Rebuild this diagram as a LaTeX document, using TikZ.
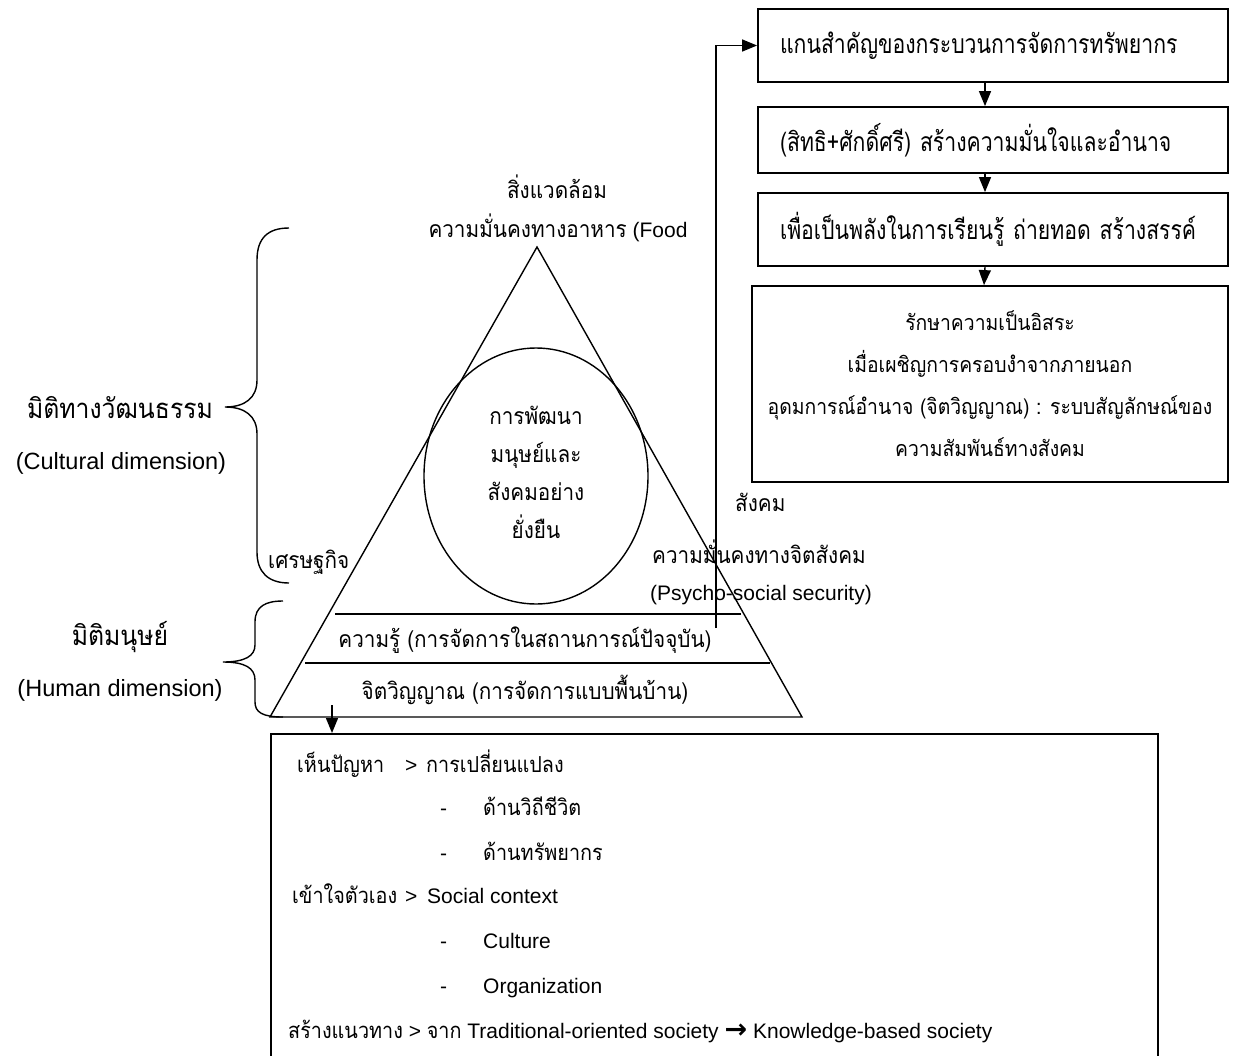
\documentclass[tikz,border=0pt]{standalone}
\usepackage{fontspec}
\setmainfont{Liberation Sans}
\newfontfamily\thai[Script=Thai,FakeStretch=0.9]{Loma}
\newfontfamily\thaibox[Script=Thai,FakeStretch=0.8]{Loma}
\newfontfamily\symfont{DejaVu Sans}
\usetikzlibrary{arrows.meta,positioning}

\begin{document}
\begin{tikzpicture}[x=1pt, y=-1pt,
  lbl/.style={inner sep=0pt, font=\fontsize{21}{25}\selectfont},
  tlbl/.style={inner sep=0pt, font=\thai\fontsize{23}{27}\selectfont},
  side/.style={inner sep=0pt, font=\thai\fontsize{27.5}{32}\selectfont},
  row/.style={inner sep=0pt, anchor=west, text height=15pt, text depth=5pt,
    font=\fontsize{21}{25}\selectfont},
  stepbox/.style={draw, line width=1.8pt, minimum width=470pt, text width=426pt,
    align=left, inner xsep=22pt, font=\thaibox\fontsize{26.5}{30}\selectfont},
  arr/.style={line width=1.4pt, -{Triangle[length=15pt,width=12pt]}},
  edge/.style={line width=1.4pt}]
\useasboundingbox (0,0) rectangle (1237,1055);

% flow of boxes on the right
\node[stepbox, minimum height=73pt] (b1) at (993,45.5) {แกนสำคัญของกระบวนการจัดการทรัพยากร};
\node[stepbox, minimum height=66pt] (b2) at (993,140) {(สิทธิ+ศักดิ์ศรี) สร้างความมั่นใจและอำนาจ};
\node[stepbox, minimum height=73pt] (b3) at (993,229.5) {เพื่อเป็นพลังในการเรียนรู้ ถ่ายทอด สร้างสรรค์};
\node[draw, line width=1.8pt, minimum width=476pt, minimum height=196pt, align=center,
  font=\thai\fontsize{21.5}{42}\selectfont] (b4) at (990,384)
  {รักษาความเป็นอิสระ\\เมื่อเผชิญการครอบงำจากภายนอก\\อุดมการณ์อำนาจ (จิตวิญญาณ) : ระบบสัญลักษณ์ของ\\ความสัมพันธ์ทางสังคม};

\draw[arr] ([xshift=-8pt]b1.south) -- ([xshift=-8pt]b2.north);
\draw[arr] ([xshift=-8pt]b2.south) -- ([xshift=-8pt]b3.north);
\draw[arr] ([xshift=-8pt]b3.south) -- ([xshift=-6pt]b4.north);

% pyramid
\draw[edge] (537,247) -- (270,717) -- (802,717) -- cycle;
\draw[edge] (335,614) -- (741,614);
\draw[edge] (305,663) -- (770,663);
\draw[edge] (536,476) ellipse [x radius=112, y radius=128];

\node[tlbl] (env) at (557,187) {สิ่งแวดล้อม};
\node[lbl] (food) at (558,228) {{\thai\fontsize{23}{27}\selectfont ความมั่นคงทางอาหาร} (Food};
\node[tlbl, align=center, font=\thai\fontsize{23}{38}\selectfont] (core) at (536,472)
  {การพัฒนา\\มนุษย์และ\\สังคมอย่าง\\ยั่งยืน};
\node[tlbl, anchor=west] (eco) at (268,562) {เศรษฐกิจ};
\node[tlbl, anchor=west] (soc) at (735,502) {สังคม};
\node[tlbl] (psy) at (759,552) {ความมั่นคงทางจิตสังคม};
\node[lbl] (psyen) at (761,595) {(Psycho-social security)};
\node[tlbl] (know) at (525,640) {ความรู้ (การจัดการในสถานการณ์ปัจจุบัน)};
\node[tlbl] (spirit) at (525,690) {จิตวิญญาณ (การจัดการแบบพื้นบ้าน)};

% braces and dimensions
\draw[line width=1.4pt] (289,228) .. controls (268,228) and (257,238) .. (257,260) -- (257,380)
  .. controls (257,398) and (245,407) .. (225,407) .. controls (245,407) and (257,416) .. (257,434)
  -- (257,552) .. controls (257,572) and (268,583) .. (289,583);
\draw[line width=1.4pt] (283,601) .. controls (266,601) and (255,606) .. (255,622) -- (255,645)
  .. controls (255,656) and (245,662) .. (223,662) .. controls (245,662) and (255,668) .. (255,680)
  -- (255,702) .. controls (255,712) and (262,717) .. (283,717);
\node[side] (cult) at (120,408) {มิติทางวัฒนธรรม};
\node[side, font=\fontsize{23.5}{28}\selectfont] (culten) at (121,463) {(Cultural dimension)};
\node[side] (hum) at (120,637) {มิติมนุษย์};
\node[side, font=\fontsize{23.5}{28}\selectfont] (humen) at (120,690) {(Human dimension)};

% feedback and the box below
\coordinate (fb) at (716,628);
\draw[arr] (fb) |- (b1.west);
\node[draw, line width=1.6pt, anchor=north west, minimum width=887pt, minimum height=360pt] (plan) at (270,733) {};
\coordinate (dn) at (332,705);
\draw[arr] (dn) -- (dn |- plan.north);

\node[row] (r1) at (297,767) {\thai\fontsize{22}{25}\selectfont เห็นปัญหา};
\node[row] (r1a) at (405,767) {>};
\node[row] (r1b) at (426,767) {\thai\fontsize{22}{25}\selectfont การเปลี่ยนแปลง};
\node[row] (d1) at (440,810) {-};
\node[row] (i1) at (483,810) {\thai\fontsize{22}{25}\selectfont ด้านวิถีชีวิต};
\node[row] (d2) at (440,855) {-};
\node[row] (i2) at (483,855) {\thai\fontsize{22}{25}\selectfont ด้านทรัพยากร};
\node[row] (r2) at (292,898) {\thai\fontsize{22}{25}\selectfont เข้าใจตัวเอง};
\node[row] (r2a) at (405,898) {>};
\node[row] (r2b) at (427,898) {Social context};
\node[row] (d3) at (440,943) {-};
\node[row] (i3) at (483,943) {Culture};
\node[row] (d4) at (440,988) {-};
\node[row] (i4) at (483,988) {Organization};
\node[row] (r3) at (288,1033) {{\thai\fontsize{22}{25}\selectfont สร้างแนวทาง} > {\thai\fontsize{22}{25}\selectfont จาก} Traditional-oriented society {\symfont\bfseries\fontsize{27}{25}\selectfont →} Knowledge-based society};
\end{tikzpicture}
\end{document}
